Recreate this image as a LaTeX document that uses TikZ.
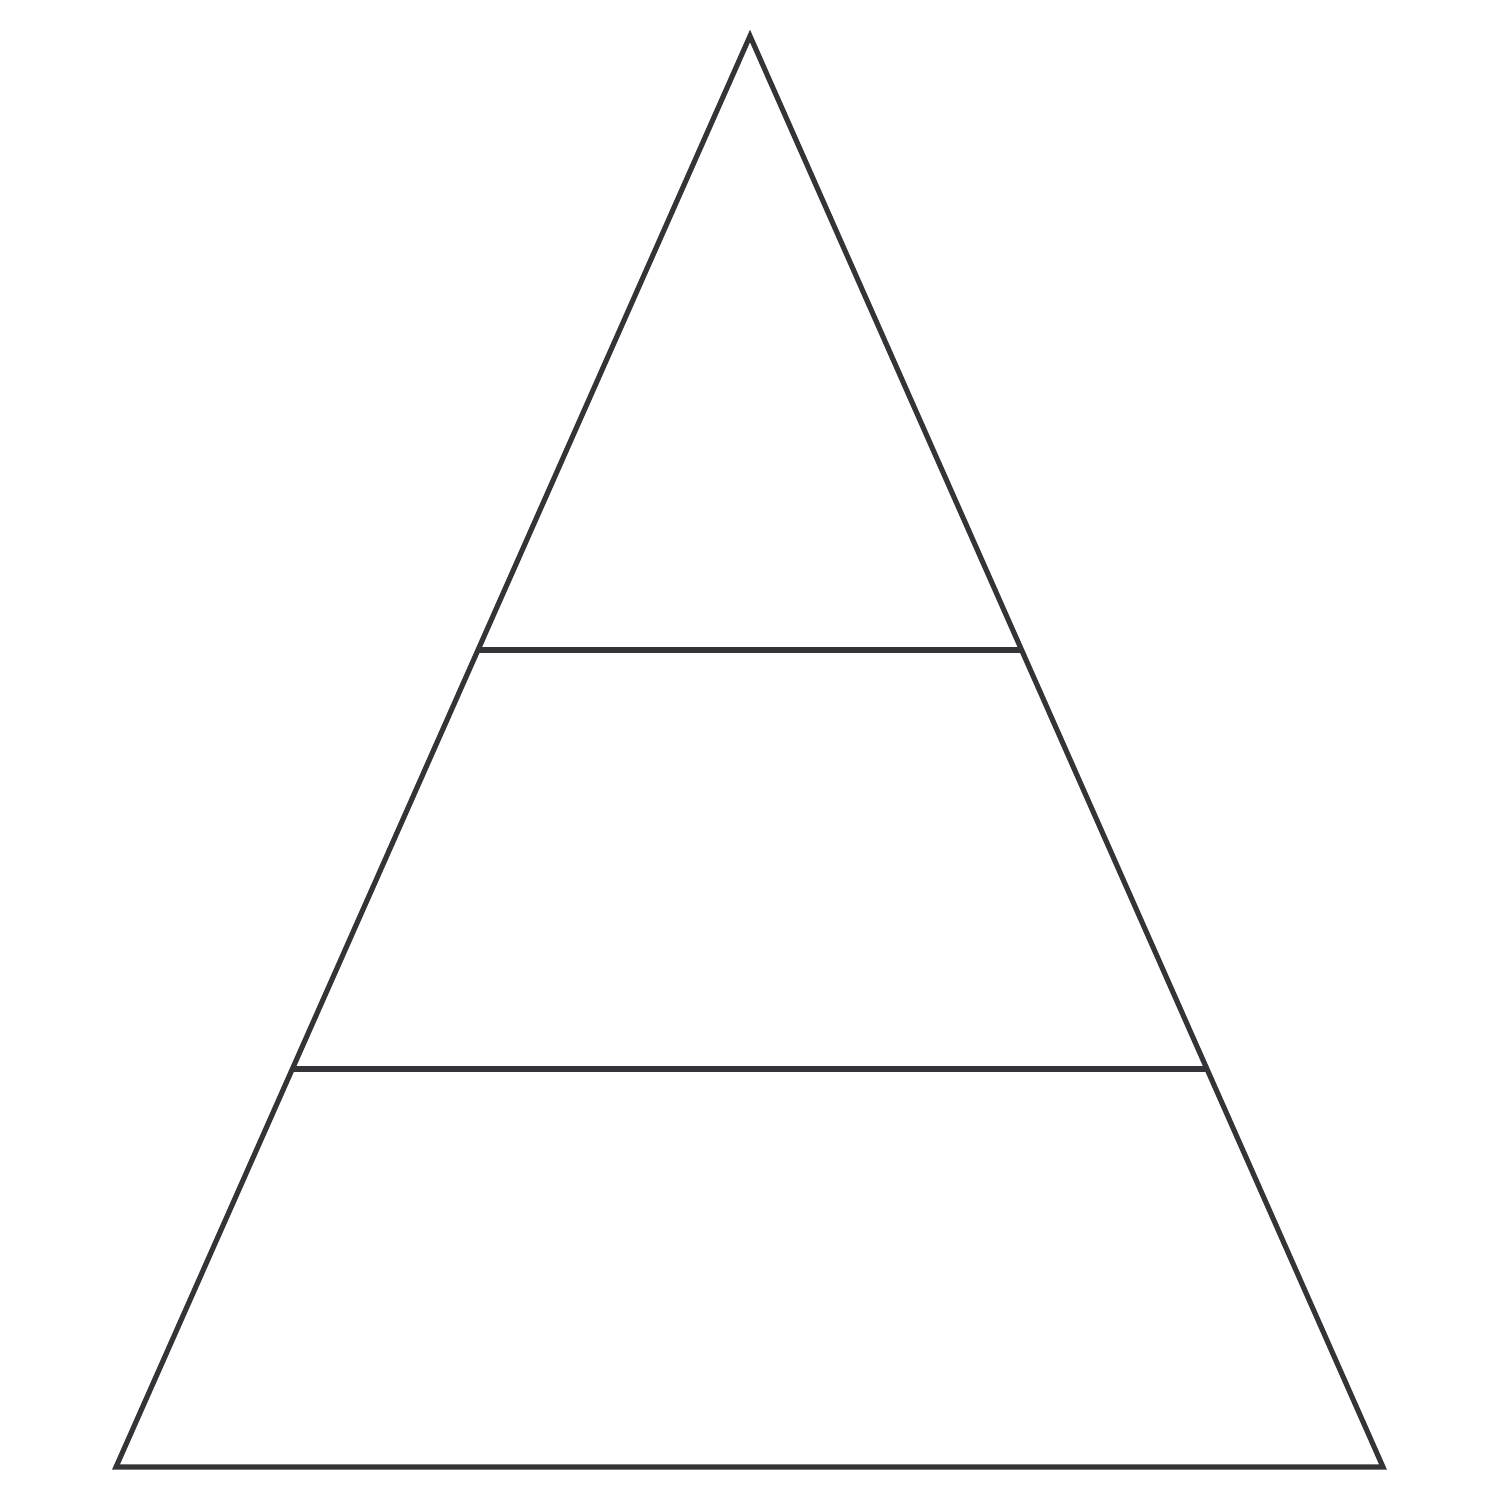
\documentclass[tikz,border=0pt]{standalone}
\usetikzlibrary{calc}
\definecolor{edgecol}{RGB}{51,51,56}
\begin{document}
\begin{tikzpicture}[x=0.01cm,y=-0.01cm,
  edge/.style={draw=edgecol, line width=1.45pt, line join=miter}]
\useasboundingbox (0,0) rectangle (1500,1500);
\coordinate (apex) at (750,36);
\coordinate (bl) at (116,1467);
\coordinate (br) at (1383,1467);
\draw[edge] (apex) -- (bl) -- (br) -- cycle;
\coordinate (l1) at ($(apex)!0.4291!(bl)$);
\coordinate (r1) at ($(apex)!0.4291!(br)$);
\coordinate (l2) at ($(apex)!0.7219!(bl)$);
\coordinate (r2) at ($(apex)!0.7219!(br)$);
\draw[edge] (l1) -- (r1);
\draw[edge] (l2) -- (r2);
\end{tikzpicture}
\end{document}
